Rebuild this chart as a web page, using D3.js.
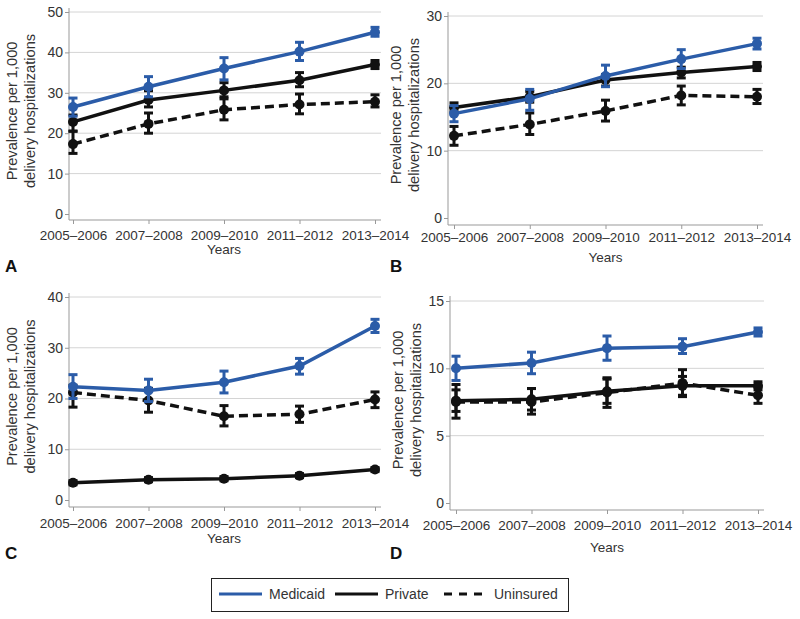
<!DOCTYPE html>
<html><head><meta charset="utf-8">
<script src="https://cdn.jsdelivr.net/npm/d3@7"></script>
<style>body{margin:0;background:#fff}svg{display:block}text{font-family:"Liberation Sans",Arial,sans-serif}</style>
</head><body><svg id="c" width="800" height="619"></svg>
<script>
const years = ["2005–2006","2007–2008","2009–2010","2011–2012","2013–2014"];
const seriesNames = ["Medicaid","Private","Uninsured"];
const panelLetters = ["A","B","C","D"];
const yMaxes = [50,30,40,15];
const yTickSets = [[0,10,20,30,40,50],[0,10,20,30],[0,10,20,30,40],[0,5,10,15]];

// Panel A
const aMedicaid = [26.5,31.5,36.0,40.2,45.0], aMedicaidLo=[24.2,29.0,33.2,38.0,44.0], aMedicaidHi=[28.7,34.0,38.7,42.5,46.2];
const aPrivate  = [22.8,28.2,30.6,33.1,37.0], aPrivateLo=[20.5,26.5,28.5,31.5,36.0], aPrivateHi=[24.5,30.5,32.5,35.0,38.0];
const aUninsured= [17.3,22.3,25.8,27.1,27.8], aUninsuredLo=[15.0,20.0,23.3,24.8,26.5], aUninsuredHi=[20.5,25.0,29.0,29.7,29.5];
// Panel B
const bMedicaid = [15.5,17.7,21.1,23.6,25.9], bMedicaidLo=[14.3,16.0,19.5,22.2,25.1], bMedicaidHi=[16.7,19.1,22.7,25.0,26.7];
const bPrivate  = [16.4,18.0,20.5,21.6,22.5], bPrivateLo=[15.8,17.2,19.6,20.8,21.9], bPrivateHi=[17.1,18.8,21.3,22.4,23.1];
const bUninsured= [12.2,13.9,15.9,18.2,18.0], bUninsuredLo=[10.8,12.4,14.4,16.8,17.0], bUninsuredHi=[13.6,15.6,17.5,19.6,19.1];
// Panel C
const cMedicaid = [22.3,21.6,23.2,26.4,34.3], cMedicaidLo=[20.0,19.4,21.1,24.8,33.0], cMedicaidHi=[24.7,23.8,25.4,27.9,35.6];
const cPrivate  = [3.4,4.0,4.2,4.8,6.0], cPrivateLo=[3.0,3.6,3.8,4.4,5.6], cPrivateHi=[3.8,4.4,4.6,5.2,6.4];
const cUninsured= [21.2,19.6,16.5,16.9,19.8], cUninsuredLo=[18.3,17.3,14.6,15.3,18.2], cUninsuredHi=[22.6,22.0,18.6,18.5,21.3];
// Panel D
const dMedicaid = [10.0,10.4,11.5,11.6,12.7], dMedicaidLo=[9.1,9.6,10.6,11.1,12.4], dMedicaidHi=[10.9,11.2,12.4,12.2,13.0];
const dPrivate  = [7.6,7.7,8.3,8.7,8.7], dPrivateLo=[6.8,6.9,7.4,8.0,8.4], dPrivateHi=[8.4,8.5,9.2,9.4,9.0];
const dUninsured= [7.5,7.5,8.2,8.9,8.0], dUninsuredLo=[6.3,6.6,7.1,7.9,7.4], dUninsuredHi=[8.8,8.5,9.3,9.9,8.6];

const panelData = [
  {Medicaid:[aMedicaid,aMedicaidLo,aMedicaidHi],Private:[aPrivate,aPrivateLo,aPrivateHi],Uninsured:[aUninsured,aUninsuredLo,aUninsuredHi]},
  {Medicaid:[bMedicaid,bMedicaidLo,bMedicaidHi],Private:[bPrivate,bPrivateLo,bPrivateHi],Uninsured:[bUninsured,bUninsuredLo,bUninsuredHi]},
  {Medicaid:[cMedicaid,cMedicaidLo,cMedicaidHi],Private:[cPrivate,cPrivateLo,cPrivateHi],Uninsured:[cUninsured,cUninsuredLo,cUninsuredHi]},
  {Medicaid:[dMedicaid,dMedicaidLo,dMedicaidHi],Private:[dPrivate,dPrivateLo,dPrivateHi],Uninsured:[dUninsured,dUninsuredLo,dUninsuredHi]}
];

// layout (pixels)
const layouts = [
  {ax:69, x0:73, x1:375, right:381, yTop:12, yZero:214, axTop:8, axBottom:220, tickY:240, titleY:254, letterY:272, titleX1:12, titleX2:30, letterX:5},
  {ax:448, x0:454, x1:757, right:763, yTop:16, yZero:218, axTop:12, axBottom:225, tickY:242, titleY:262, letterY:272, titleX1:396, titleX2:414, letterX:390},
  {ax:69, x0:73, x1:375, right:381, yTop:297, yZero:500, axTop:293, axBottom:507, tickY:528, titleY:543, letterY:559, titleX1:12, titleX2:30, letterX:5},
  {ax:450, x0:456, x1:758, right:764, yTop:301, yZero:503, axTop:296, axBottom:510, tickY:530, titleY:552, letterY:559, titleX1:398, titleX2:416, letterX:390}
];
const colors = {Medicaid:"#2b5ca8", Private:"#111", Uninsured:"#111"};
const dashes = {Medicaid:null, Private:null, Uninsured:"9,5"};
const svg = d3.select("#c");
const FS = 13.5;

panelData.forEach((pd,i)=>{
  const L = layouts[i];
  const g = svg.append("g");
  const x = d3.scalePoint().domain(years).range([L.x0,L.x1]);
  const y = d3.scaleLinear().domain([0,yMaxes[i]]).range([L.yZero,L.yTop]);
  // gridlines
  g.selectAll(".grid").data(yTickSets[i].filter(d=>d>0)).join("line")
    .attr("x1",L.ax).attr("x2",L.right).attr("y1",d=>y(d)).attr("y2",d=>y(d))
    .attr("stroke","#d4d4d4").attr("stroke-width",1);
  // y axis
  const yAx = g.append("g").attr("transform",`translate(${L.ax},0)`)
    .call(d3.axisLeft(y).tickValues(yTickSets[i]).tickSize(4).tickSizeOuter(0));
  yAx.select(".domain").remove();
  yAx.selectAll("line").attr("stroke","#999");
  yAx.selectAll("text").attr("font-size",FS+0.5).attr("fill","#333").attr("x",-6);
  g.append("line").attr("x1",L.ax).attr("x2",L.ax).attr("y1",L.axTop).attr("y2",L.axBottom).attr("stroke","#999");
  // x axis
  const xAx = g.append("g").attr("transform",`translate(0,${L.axBottom})`)
    .call(d3.axisBottom(x).tickSize(4).tickSizeOuter(0));
  xAx.select(".domain").remove();
  xAx.selectAll("line").attr("stroke","#999");
  xAx.selectAll("text").attr("font-size",FS).attr("fill","#333").attr("dy",null).attr("y",L.tickY-L.axBottom);
  g.append("line").attr("x1",L.ax).attr("x2",L.right).attr("y1",L.axBottom).attr("y2",L.axBottom).attr("stroke","#999");
  // axis titles
  g.append("text").attr("x",(L.x0+L.x1)/2).attr("y",L.titleY).attr("text-anchor","middle").attr("font-size",FS).attr("fill","#333").text("Years");
  const cy = (L.yTop+L.yZero)/2 - 2;
  [["Prevalence per 1,000",L.titleX1],["delivery hospitalizations",L.titleX2]].forEach(([t,tx])=>{
    g.append("text").attr("transform",`translate(${tx+5},${cy}) rotate(-90)`).attr("text-anchor","middle")
      .attr("font-size",14.6).attr("fill","#333").text(t);
  });
  g.append("text").attr("x",L.letterX).attr("y",L.letterY).attr("font-size",17).attr("font-weight","bold").attr("fill","#111").text(panelLetters[i]);
  // series
  ["Uninsured","Private","Medicaid"].forEach(s=>{
    const [v,lo,hi] = pd[s];
    const pts = years.map((yr,k)=>({yr,v:v[k],lo:lo[k],hi:hi[k]}));
    const sg = g.append("g");
    sg.append("path").datum(pts)
      .attr("d",d3.line().x(d=>x(d.yr)).y(d=>y(d.v)))
      .attr("fill","none").attr("stroke",colors[s]).attr("stroke-width",3.5)
      .attr("stroke-dasharray",dashes[s]);
    const eb = sg.selectAll(".eb").data(pts).join("g");
    eb.append("line").attr("x1",d=>x(d.yr)).attr("x2",d=>x(d.yr)).attr("y1",d=>y(d.lo)).attr("y2",d=>y(d.hi))
      .attr("stroke",colors[s]).attr("stroke-width",3);
    eb.append("line").attr("x1",d=>x(d.yr)-4.5).attr("x2",d=>x(d.yr)+4.5).attr("y1",d=>y(d.lo)).attr("y2",d=>y(d.lo))
      .attr("stroke",colors[s]).attr("stroke-width",3);
    eb.append("line").attr("x1",d=>x(d.yr)-4.5).attr("x2",d=>x(d.yr)+4.5).attr("y1",d=>y(d.hi)).attr("y2",d=>y(d.hi))
      .attr("stroke",colors[s]).attr("stroke-width",3);
    eb.append("circle").attr("cx",d=>x(d.yr)).attr("cy",d=>y(d.v)).attr("r",5).attr("fill",colors[s]);
  });
});

// legend
const lg = svg.append("g");
lg.append("rect").attr("x",211.5).attr("y",578.5).attr("width",357).attr("height",33).attr("fill","#fff").attr("stroke","#222").attr("stroke-width",1);
const legendX = [219,335,444];
seriesNames.forEach((s,k)=>{
  lg.append("line").attr("x1",legendX[k]).attr("x2",legendX[k]+43).attr("y1",594).attr("y2",594)
    .attr("stroke",colors[s]).attr("stroke-width",3).attr("stroke-dasharray",dashes[s]?"8,7":null);
  lg.append("text").attr("x",legendX[k]+50).attr("y",599).attr("font-size",FS+0.5).attr("fill","#333").text(s);
});
</script></body></html>
